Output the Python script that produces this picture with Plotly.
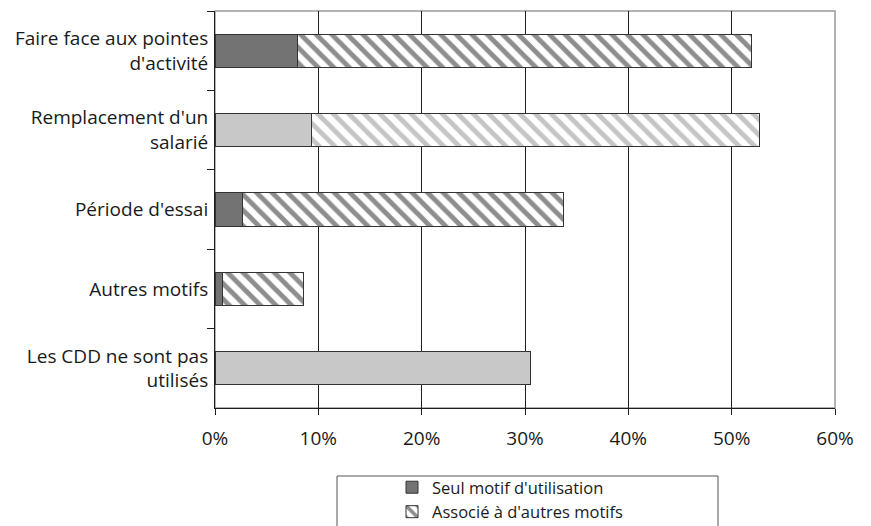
import plotly.graph_objects as go

categories = ["Faire face aux pointes<br>d'activité", "Remplacement d'un<br>salarié",
              "Période d'essai", "Autres motifs", "Les CDD ne sont pas<br>utilisés"]
seul_motif = [8.0, 9.3, 2.7, 0.7, 30.5]
associe = [43.9, 43.4, 31.0, 7.85, 0.0]
seul_colors = ["#737373", "#c8c8c8", "#737373", "#737373", "#c8c8c8"]
hatch_colors = ["#1e1e1e", "#8c8c8c", "#1e1e1e", "#1e1e1e", "#1e1e1e"]
x_ticks = [0, 10, 20, 30, 40, 50, 60]
x_labels = ["0%", "10%", "20%", "30%", "40%", "50%", "60%"]

FONT = "Open Sans"
FS = 19
W, H = 863, 518          # page body has an 8px margin
OFF = 8
PL, PR, PT, PB = 215 - OFF, 835 - OFF, 11 - OFF, 408 - OFF   # plot area in figure px


def px_to_paper_x(px):
    return (px - OFF - PL) / (PR - PL)


def px_to_paper_y(py):
    return (PB - (py - OFF)) / (PB - PT)


fig = go.Figure()
fig.add_trace(go.Bar(
    y=categories, x=seul_motif, orientation="h", name="Seul motif d'utilisation",
    marker=dict(color=seul_colors, line=dict(color="#333333", width=1)),
))
fig.add_trace(go.Bar(
    y=categories, x=associe, orientation="h", name="Associé à d'autres motifs",
    marker=dict(color="white", line=dict(color="#333333", width=1),
                pattern=dict(shape="\\", fgcolor=hatch_colors, bgcolor="white",
                             size=11, solidity=0.45)),
))

fig.update_layout(
    width=W, height=H,
    barmode="stack", bargap=0.58,
    plot_bgcolor="white", paper_bgcolor="white",
    margin=dict(l=PL, r=W - PR, t=PT, b=H - PB, autoexpand=False),
    font=dict(family=FONT, size=FS, color="#1a1a1a"),
    showlegend=True,
    legend=dict(xref="container", yref="container",
                x=(384) / W, xanchor="left",
                y=1 - (470 - OFF) / H, yanchor="top",
                orientation="v", traceorder="normal",
                bgcolor="rgba(0,0,0,0)", borderwidth=0,
                font=dict(family=FONT, size=16.5, color="#1a1a1a"),
                tracegroupgap=0, itemwidth=30),
    xaxis=dict(range=[0, 60], tickvals=x_ticks, ticktext=x_labels,
               showgrid=True, gridcolor="#1e1e1e", gridwidth=1,
               showline=True, linecolor="#1e1e1e", linewidth=1,
               ticks="outside", ticklen=6, tickcolor="#1e1e1e",
               ticklabelstandoff=7, zeroline=False,
               tickfont=dict(family=FONT, size=FS)),
    yaxis=dict(autorange="reversed", showline=True, linecolor="#1e1e1e", linewidth=1,
               ticks="outside", ticklen=7, tickcolor="#1e1e1e", tickson="boundaries",
               ticklabelstandoff=2,
               showgrid=False, tickfont=dict(family=FONT, size=FS)),
    shapes=[
        dict(type="rect", xref="paper", yref="paper", x0=0, x1=1, y0=0, y1=1,
             line=dict(color="#9a9a9a", width=1.5), layer="below"),
        dict(type="rect", xref="paper", yref="paper",
             x0=px_to_paper_x(337), x1=px_to_paper_x(718),
             y0=px_to_paper_y(545), y1=px_to_paper_y(476),
             line=dict(color="#555555", width=1)),
    ],
)

fig.write_html("out.html")
